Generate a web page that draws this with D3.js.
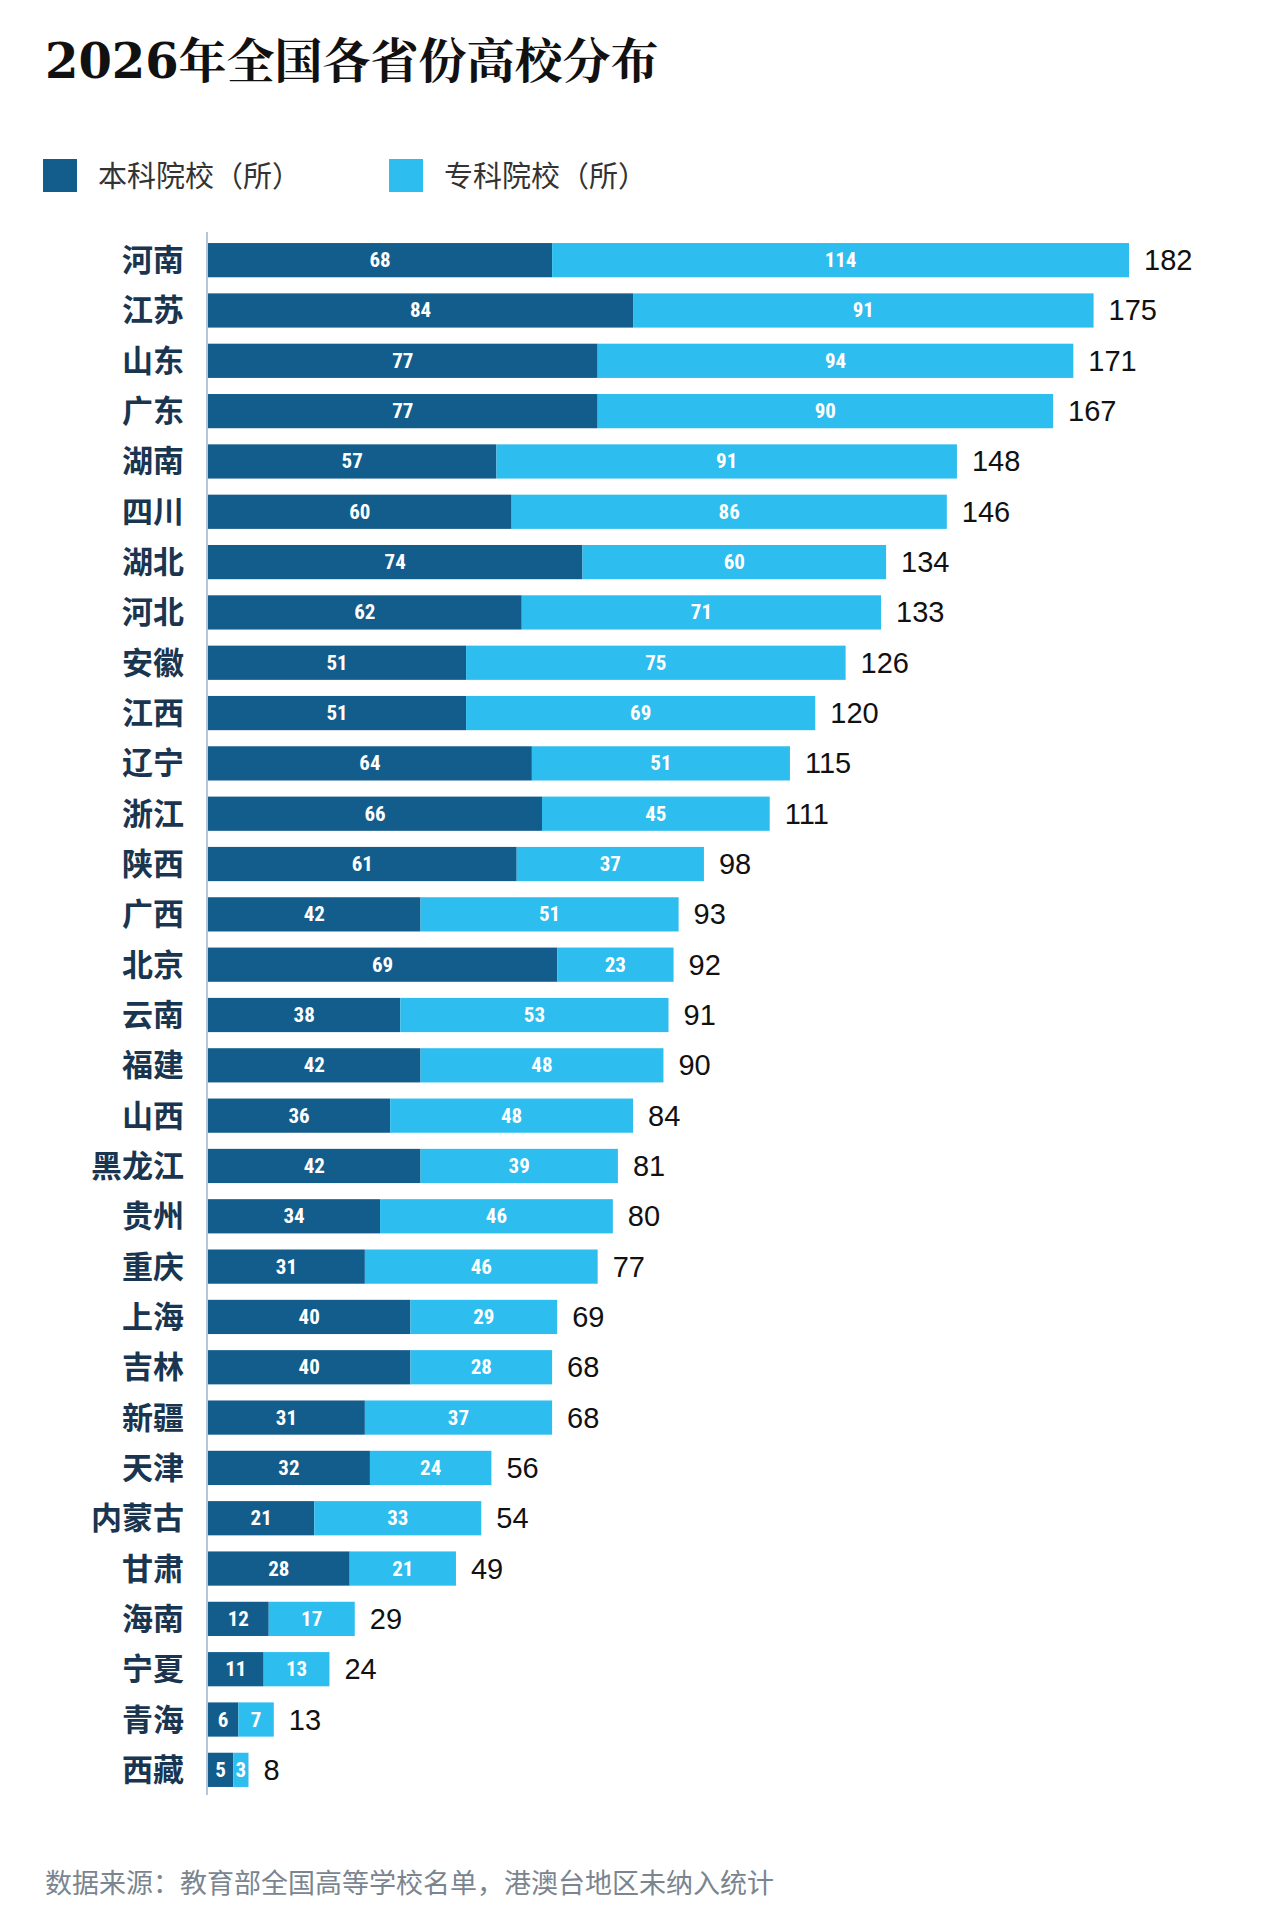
<!DOCTYPE html>
<html><head><meta charset="utf-8">
<script src="https://cdn.jsdelivr.net/npm/d3@7"></script>
<style>body{margin:0;background:#fff}</style>
</head><body>
<svg id="chart" width="1280" height="1911"></svg>
<script>
const provinces = ['河南','江苏','山东','广东','湖南','四川','湖北','河北','安徽','江西','辽宁','浙江','陕西','广西','北京','云南','福建','山西','黑龙江','贵州','重庆','上海','吉林','新疆','天津','内蒙古','甘肃','海南','宁夏','青海','西藏'];
const undergrad = [68,84,77,77,57,60,74,62,51,51,64,66,61,42,69,38,42,36,42,34,31,40,40,31,32,21,28,12,11,6,5];
const college = [114,91,94,90,91,86,60,71,75,69,51,45,37,51,23,53,48,48,39,46,46,29,28,37,24,33,21,17,13,7,3];
const seriesNames = ['本科院校（所）','专科院校（所）'];
const colors = ['#135d8c','#2dbdee'];

const svg = d3.select('#chart');
const cjk = '"Noto Sans CJK SC", sans-serif';

svg.append('text').attr('x', 45).attr('y', 78)
  .attr('font-family', '"DejaVu Serif", "Noto Serif CJK SC", serif').attr('font-weight', 'bold')
  .attr('font-size', 48).attr('fill', '#111').text('2026年全国各省份高校分布');

// Legend
[[43, 98], [389, 444]].forEach(([sx, tx], i) => {
  svg.append('rect').attr('x', sx).attr('y', 159).attr('width', 34).attr('height', 33).attr('fill', colors[i]);
  svg.append('text').attr('x', tx).attr('y', 187).attr('font-family', cjk)
    .attr('font-size', 29).attr('fill', '#333').text(seriesNames[i]);
});

const x = d3.scaleLinear().domain([0, 182]).range([208, 1129]);
const y = d3.scaleBand().domain(provinces).range([235, 1795]).paddingInner(0.32).paddingOuter(0.16);

svg.append('line').attr('x1', 207).attr('x2', 207).attr('y1', 232).attr('y2', 1795)
  .attr('stroke', '#9fb3c8').attr('stroke-width', 1.5);

const rows = svg.append('g').selectAll('g').data(provinces).join('g')
  .attr('transform', d => `translate(0,${y(d)})`);
const bh = y.bandwidth();

rows.append('rect').attr('x', x(0)).attr('y', 0).attr('height', bh)
  .attr('width', (d, i) => x(undergrad[i]) - x(0)).attr('fill', colors[0]);
rows.append('rect').attr('x', (d, i) => x(undergrad[i])).attr('y', 0).attr('height', bh)
  .attr('width', (d, i) => x(undergrad[i] + college[i]) - x(undergrad[i])).attr('fill', colors[1]);

const inner = { 'font-family': '"Liberation Sans Narrow", "Roboto Condensed", "Liberation Sans", sans-serif', 'font-weight': 'bold', 'font-size': 21, 'fill': '#fff', 'text-anchor': 'middle' };
const lab = (sel, o) => { Object.entries(o).forEach(([k, v]) => sel.attr(k, v)); return sel; };

lab(rows.append('text'), inner).attr('y', bh / 2 + 7)
  .attr('x', (d, i) => (x(0) + x(undergrad[i])) / 2).text((d, i) => undergrad[i]);
lab(rows.append('text'), inner).attr('y', bh / 2 + 7)
  .attr('x', (d, i) => (x(undergrad[i]) + x(undergrad[i] + college[i])) / 2).text((d, i) => college[i]);

rows.append('text').attr('x', (d, i) => x(undergrad[i] + college[i]) + 15).attr('y', bh / 2 + 10)
  .attr('font-family', '"Liberation Sans", sans-serif').attr('font-size', 29).attr('fill', '#111')
  .text((d, i) => undergrad[i] + college[i]);

rows.append('text').attr('x', 184).attr('y', bh / 2 + 11).attr('text-anchor', 'end')
  .attr('font-family', cjk).attr('font-weight', 'bold').attr('font-size', 31).attr('fill', '#1a3550')
  .text(d => d);

svg.append('text').attr('x', 45).attr('y', 1893).attr('font-family', cjk)
  .attr('font-size', 27).attr('fill', '#7a8590').text('数据来源：教育部全国高等学校名单，港澳台地区未纳入统计');
</script>
</body></html>
